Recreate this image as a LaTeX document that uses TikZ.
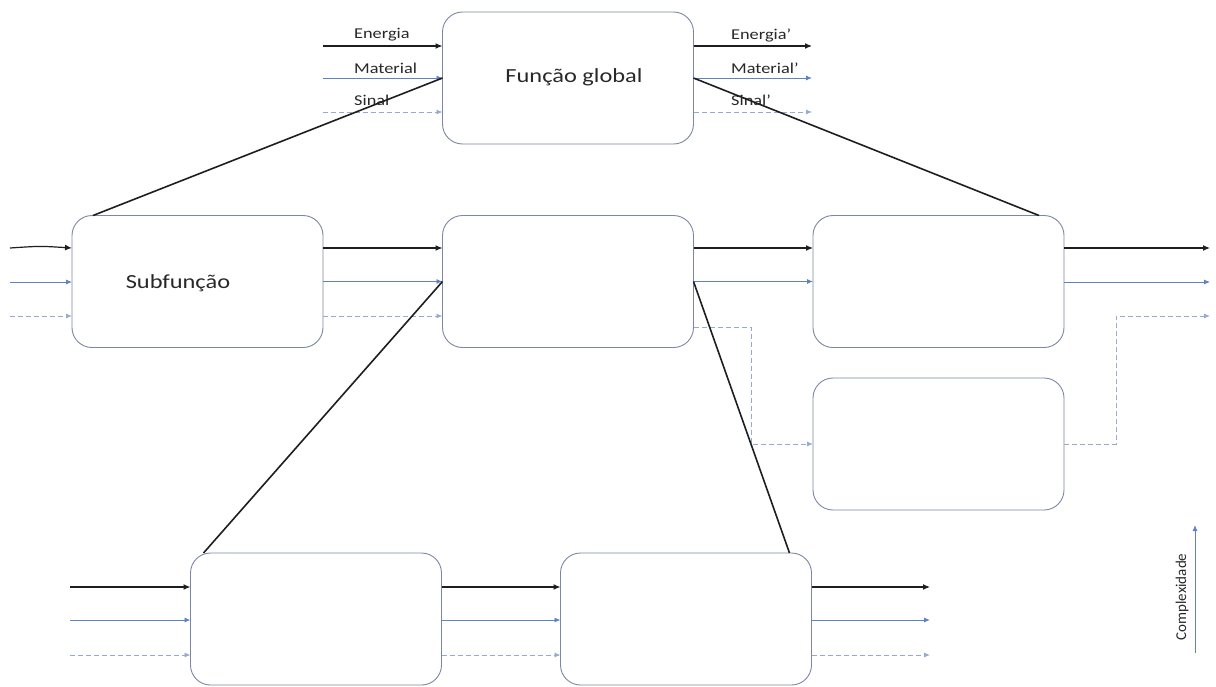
\documentclass[tikz,border=0pt]{standalone}
\usepackage{fontspec}
\usepackage{graphicx}
\setmainfont{Carlito}
\usetikzlibrary{arrows.meta,calc}
\definecolor{blk}{RGB}{30,30,30}
\definecolor{blu}{RGB}{95,130,195}
\definecolor{dsh}{RGB}{150,170,210}
\definecolor{bord}{RGB}{125,135,165}
\definecolor{txt}{RGB}{40,40,40}
\newcommand{\hstretch}[1]{\scalebox{1.22}[1]{#1}}
\begin{document}
\begin{tikzpicture}[x=1pt,y=-1pt,
  fbox/.style={draw=bord,line width=0.9pt,rounded corners=20pt,minimum width=251pt,minimum height=132pt,inner sep=0pt,outer sep=0pt,fill=white},
  earrow/.style={draw=blk,line width=1.2pt,-{Latex[length=7pt,width=6pt]}},
  marrow/.style={draw=blu,line width=0.9pt,-{Latex[length=6pt,width=5pt]}},
  sarrow/.style={draw=dsh,line width=0.9pt,dash pattern=on 5pt off 3pt,-{Latex[length=6pt,width=5pt]}},
  link/.style={draw=blk,line width=1.6pt},
  lbl/.style={font=\fontsize{15}{17}\selectfont,text=txt,anchor=west,inner sep=0pt},
  big/.style={font=\fontsize{20}{24}\selectfont,text=txt,inner sep=0pt}
]
\useasboundingbox (0,0) rectangle (1216,686);

% boxes
\node[fbox] (G)  at (568,78) {};
\node[fbox] (B1) at (197.5,281.5) {};
\node[fbox] (B2) at (568,281.5) {};
\node[fbox] (B3) at (938.5,281.5) {};
\node[fbox] (B4) at (938.5,444) {};
\node[fbox] (B5) at (316,619) {};
\node[fbox] (B6) at (686,619) {};

\node[big] (gtxt) at (574,77) {\hstretch{Função global}};
\node[big] (stxt) at (178,283) {\hstretch{Subfunção}};

% top box flows
\coordinate (gie) at (323,46);
\coordinate (gim) at (323,78);
\coordinate (gis) at (323,112);
\coordinate (goe) at (812,46);
\coordinate (gom) at (812,78);
\coordinate (gos) at (812,112);
\draw[earrow] (gie) -- (gie -| G.west);
\draw[marrow] (gim) -- (gim -| G.west);
\draw[sarrow] (gis) -- (gis -| G.west);
\draw[earrow] (goe -| G.east) -- (goe);
\draw[marrow] (gom -| G.east) -- (gom);
\draw[sarrow] (gos -| G.east) -- (gos);

\node[lbl] (l1) at (354,35) {\hstretch{Energia}};
\node[lbl] (l2) at (354,68) {\hstretch{Material}};
\node[lbl] (l3) at (354,100) {\hstretch{Sinal}};
\node[lbl] (r1) at (731,35) {\hstretch{Energia'}};
\node[lbl] (r2) at (731,68) {\hstretch{Material'}};
\node[lbl] (r3) at (731,100) {\hstretch{Sinal'}};

% middle row flows
\coordinate (mie) at (10,248);
\coordinate (mim) at (10,282);
\coordinate (mis) at (10,316);
\draw[earrow] (mie) .. controls (40,246) .. (mie -| B1.west);
\draw[marrow] (mim) -- (mim -| B1.west);
\draw[sarrow] (mis) -- (mis -| B1.west);

\draw[earrow] ([yshift=33.5pt]B1.east) -- ([yshift=33.5pt]B2.west);
\draw[marrow] (B1.east) -- (B2.west);
\draw[sarrow] ([yshift=-34.5pt]B1.east) -- ([yshift=-34.5pt]B2.west);

\draw[earrow] ([yshift=33.5pt]B2.east) -- ([yshift=33.5pt]B3.west);
\draw[marrow] (B2.east) -- (B3.west);
\coordinate (k1) at (751,327);
\draw[sarrow] ([yshift=-45.5pt]B2.east) -- (k1) |- (B4.west);

\coordinate (moe) at (1210,248);
\coordinate (mom) at (1210,282);
\coordinate (mos) at (1210,316);
\draw[earrow] (moe -| B3.east) -- (moe);
\draw[marrow] (mom -| B3.east) -- (mom);
\coordinate (k2) at (1116,444);
\draw[sarrow] (B4.east) -- (k2) |- (mos);

% bottom row flows
\coordinate (bie) at (70,587);
\coordinate (bim) at (70,620);
\coordinate (bis) at (70,655);
\draw[earrow] (bie) -- (bie -| B5.west);
\draw[marrow] (bim) -- (bim -| B5.west);
\draw[sarrow] (bis) -- (bis -| B5.west);
\draw[earrow] ([yshift=32pt]B5.east) -- ([yshift=32pt]B6.west);
\draw[marrow] ([yshift=-1pt]B5.east) -- ([yshift=-1pt]B6.west);
\draw[sarrow] ([yshift=-36pt]B5.east) -- ([yshift=-36pt]B6.west);
\coordinate (boe) at (930,587);
\coordinate (bom) at (930,620);
\coordinate (bos) at (930,655);
\draw[earrow] (boe -| B6.east) -- (boe);
\draw[marrow] (bom -| B6.east) -- (bom);
\draw[sarrow] (bos -| B6.east) -- (bos);

% decomposition links
\draw[link] (G.west) -- ([xshift=21pt]B1.north west);
\draw[link] (G.east) -- ([xshift=-25pt]B3.north east);
\draw[link] (B2.west) -- ([xshift=13pt]B5.north west);
\draw[link] (B2.east) -- ([xshift=-22pt]B6.north east);

% complexity axis
\coordinate (c0) at (1195,653);
\coordinate (c1) at (1195,525);
\draw[marrow] (c0) -- (c1);
\node[font=\fontsize{15}{17}\selectfont,text=txt,rotate=90,inner sep=0pt] (cx) at (1182,597) {Complexidade};
\end{tikzpicture}
\end{document}
